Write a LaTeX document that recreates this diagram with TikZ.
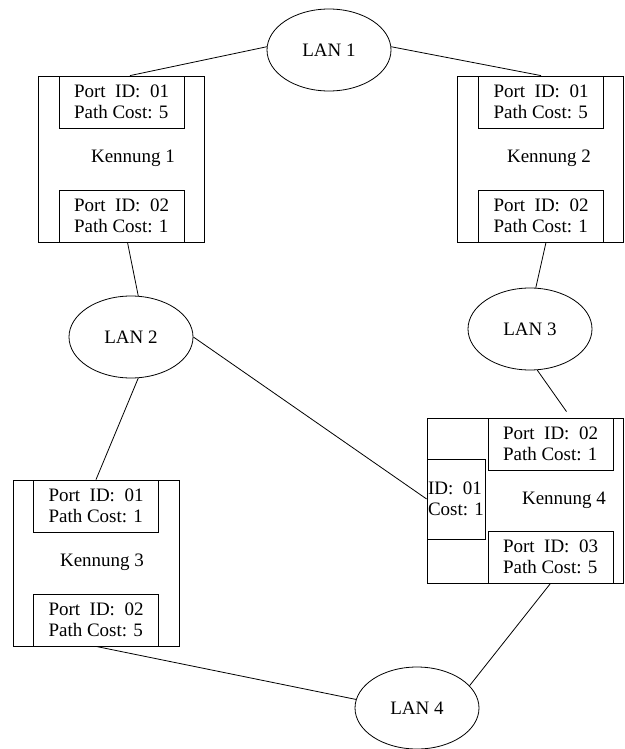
\documentclass[tikz,border=0pt]{standalone}
\usepackage{fontspec}
\setmainfont{Liberation Serif}
\usetikzlibrary{shapes.geometric,positioning}
\begin{document}
\begin{tikzpicture}[x=1pt, y=-1pt, line width=0.8pt,
		every node/.style={font=\fontsize{19}{20.5}\selectfont},
		lan/.style={ellipse,draw,minimum width=124pt,minimum height=82pt,inner sep=0pt},
		bridge/.style={rectangle,draw,minimum width=166pt,minimum height=166pt,inner sep=0pt},
		port/.style={rectangle,draw,fill=white,minimum width=125pt,minimum height=52pt,inner sep=0pt,align=left}
		]
	\useasboundingbox (0,0) rectangle (624,749);
	% LANs
	\node [lan] (lan1) at (329,50) {LAN 1};
	\node [lan] (lan2) at (131,337) {LAN 2};
	\node [lan] (lan3) at (530,329) {LAN 3};
	\node [lan] (lan4) at (417,708) {LAN 4};
	% bridge 1
	\node [bridge] (b1) at (121.5,159) {};
	\node [port,anchor=north] (p1a) at (b1.north) {Port\enspace ID:\enspace 01\\Path Cost: 5};
	\node [port,anchor=south] (p1b) at (b1.south) {Port\enspace ID:\enspace 02\\Path Cost: 1};
	\node (k1) at (133,158) {Kennung 1};
	% bridge 2
	\node [bridge] (b2) at (540,159) {};
	\node [port,anchor=north] (p2a) at ([xshift=1pt]b2.north) {Port\enspace ID:\enspace 01\\Path Cost: 5};
	\node [port,anchor=south] (p2b) at ([xshift=1pt]b2.south) {Port\enspace ID:\enspace 02\\Path Cost: 1};
	\node (k2) at (549,158) {Kennung 2};
	% bridge 3
	\node [bridge] (b3) at (96,563) {};
	\node [port,anchor=north] (p3a) at (b3.north) {Port\enspace ID:\enspace 01\\Path Cost: 1};
	\node [port,anchor=south] (p3b) at (b3.south) {Port\enspace ID:\enspace 02\\Path Cost: 5};
	\node (k3) at (102,562) {Kennung 3};
	% bridge 4
	\node [bridge,minimum width=196pt,minimum height=165pt] (b4) at (525,500.5) {};
	\node [port,anchor=north east] (p4a) at ([xshift=-10pt]b4.north east) {Port\enspace ID:\enspace 02\\Path Cost: 1};
	\node [port,anchor=south east] (p4b) at ([xshift=-10pt]b4.south east) {Port\enspace ID:\enspace 03\\Path Cost: 5};
	\node [port,anchor=west,minimum width=58pt,minimum height=80pt] (p4c) at ([yshift=1.5pt]b4.west) {ID:\enspace 01\\Cost: 1};
	\node (k4) at (564,500) {Kennung 4};
	% links
	\draw (lan1.177) -- ([xshift=8.5pt]p1a.north);
	\draw (lan1.3) -- (p2a.north);
	\draw ([xshift=6pt]p1b.south) -- (lan2.80);
	\draw (lan2.-80) -- (p3a.north);
	\draw (lan2.east) -- (p4c.west);
	\draw ([xshift=5pt]p2b.south) -- (lan3.82);
	\draw (lan3.-80) -- ([xshift=16pt,yshift=6pt]p4a.north);
	\draw (p3b.south) -- (lan4.172);
	\draw (p4b.south) -- (lan4.23);
\end{tikzpicture}
\end{document}
